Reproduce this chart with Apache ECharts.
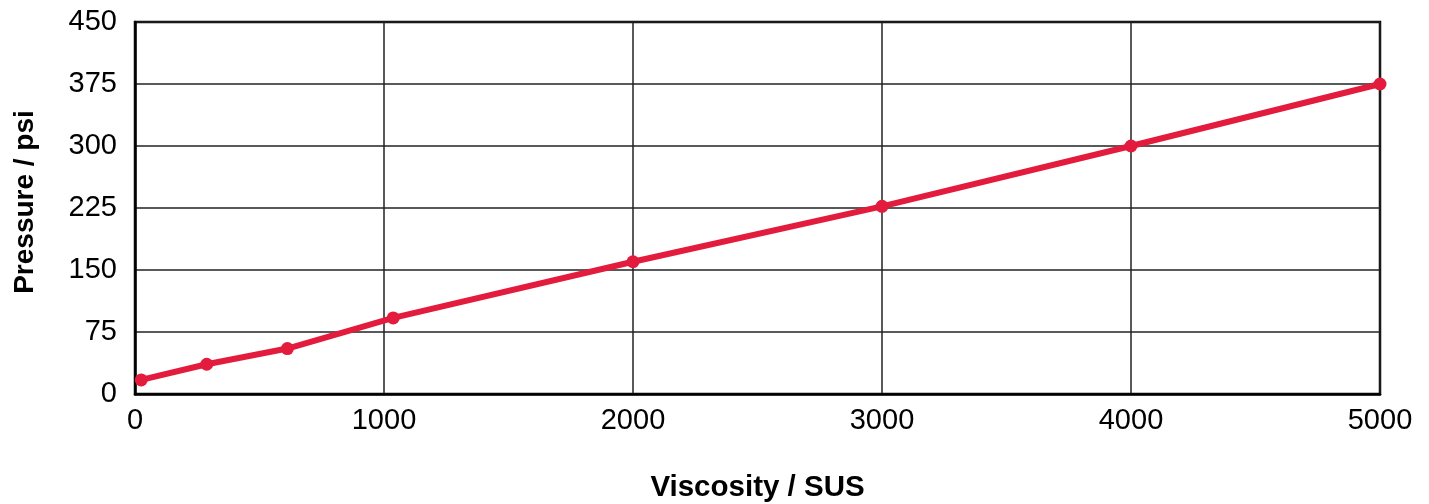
<!DOCTYPE html>
<html>
<head>
<meta charset="utf-8">
<script src="https://cdn.jsdelivr.net/npm/echarts@6/dist/echarts.min.js"></script>
<style>
  html, body { margin: 0; padding: 0; background: #fff; }
  #chart { width: 1429px; height: 504px; }
</style>
</head>
<body>
<div id="chart"></div>
<script>
// Viscosity (SUS) against pressure (psi)
const viscosity = [25, 288, 612, 1037, 2000, 3000, 4000, 5000];
const pressure = [17, 36, 55, 92, 160, 227, 300, 375];
const xTicks = { min: 0, max: 5000, interval: 1000 };
const yTicks = { min: 0, max: 450, interval: 75 };

const font = 'Liberation Sans, Arial, Helvetica, sans-serif';
const chart = echarts.init(document.getElementById('chart'));

chart.setOption({
  animation: false,
  grid: { left: 135, right: 49, top: 22, bottom: 110, containLabel: false,
          outerBoundsMode: 'none',
          show: true, borderColor: '#000', borderWidth: 2.5 },
  xAxis: {
    type: 'value',
    min: xTicks.min, max: xTicks.max, interval: xTicks.interval,
    name: 'Viscosity / SUS',
    nameLocation: 'middle',
    nameGap: 79,
    nameTextStyle: { fontFamily: font, fontSize: 29.5, fontWeight: 'bold', color: '#000' },
    axisLine: { show: true, lineStyle: { color: '#000', width: 2.5 } },
    axisTick: { show: false },
    axisLabel: { fontFamily: font, fontSize: 29, color: '#000', margin: 12,
                 formatter: v => String(v) },
    splitLine: { show: true, lineStyle: { color: '#222', width: 1.5 } }
  },
  yAxis: {
    type: 'value',
    min: yTicks.min, max: yTicks.max, interval: yTicks.interval,
    name: 'Pressure / psi',
    nameLocation: 'middle',
    nameGap: 110,
    nameRotate: 90,
    nameTextStyle: { fontFamily: font, fontSize: 28, fontWeight: 'bold', color: '#000',
                     verticalAlign: 'middle', padding: [0, 0, 0, 12] },
    axisLine: { show: true, lineStyle: { color: '#000', width: 2.5 } },
    axisTick: { show: false },
    axisLabel: { fontFamily: font, fontSize: 29, color: '#000', margin: 18,
                 padding: [6, 0, 0, 0], formatter: v => String(v) },
    splitLine: { show: true, lineStyle: { color: '#222', width: 1.5 } }
  },
  series: [{
    type: 'line',
    data: viscosity.map((v, i) => [v, pressure[i]]),
    symbol: 'circle',
    symbolSize: 13,
    showAllSymbol: true,
    clip: false,
    lineStyle: { color: '#e31b3c', width: 6 },
    itemStyle: { color: '#e31b3c' }
  }]
});
</script>
</body>
</html>
